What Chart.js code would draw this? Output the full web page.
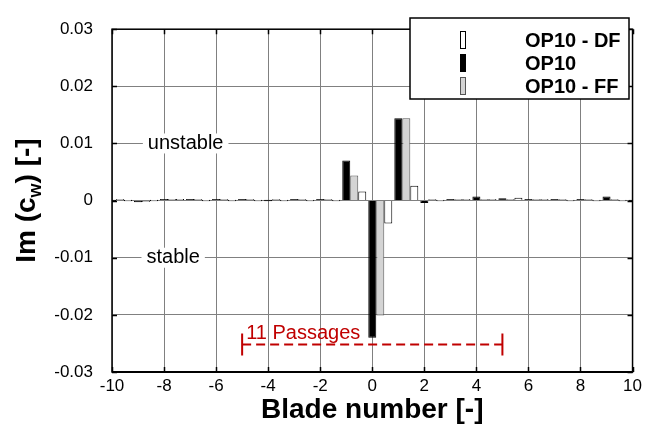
<!DOCTYPE html>
<html>
<head>
<meta charset="utf-8">
<script src="https://cdn.jsdelivr.net/npm/chart.js@4.4.0/dist/chart.umd.min.js"></script>
<style>
  html, body { margin: 0; padding: 0; background: #fff; }
  #wrap { width: 646px; height: 432px; position: relative; }
</style>
</head>
<body>
<div id="wrap"><canvas id="chartIm"></canvas></div>
<script>
'use strict';

/* ── Données ── */
var BLADES   = [-10, -9, -8, -7, -6, -5, -4, -3, -2, -1, 0, 1, 2, 3, 4, 5, 6, 7, 8, 9, 10];
var OP10     = [0, -0.0003, 0.0001, 0.0002, 0.0001, 0.0001, 0, 0.0001, 0.0001, 0.0070, -0.0240, 0.0144, -0.0004, 0.0001, 0.0007, 0.0004, 0.0001, 0.0001, 0.0001, 0.0007, 0];
var OP10_FF  = [0.0001, -0.0001, 0.0002, 0.0003, 0.0001, 0.0001, 0.0001, 0.0001, 0.0001, 0.0044, -0.0201, 0.0144, 0.0001, 0.0002, 0.0002, 0.0003, 0.0002, 0.0002, 0.0001, 0.0002, 0];
var OP10_DF  = [0, 0, 0.0001, 0, 0, 0, 0, 0, 0, 0.0016, -0.0040, 0.0026, 0, 0.0001, 0.0001, 0.0005, 0.0001, 0, 0, 0, 0];
var X_TICKS  = [-10, -8, -6, -4, -2, 0, 2, 4, 6, 8, 10];
var Y_TICKS  = [-0.03, -0.02, -0.01, 0, 0.01, 0.02, 0.03];
var LEGEND_ORDER = ['OP10 - DF', 'OP10', 'OP10 - FF'];

/* annotations (coordonnées données) */
var PASSAGES_FROM = -5, PASSAGES_TO = 5, PASSAGES_LEVEL = -0.0252;
var LBL_UNSTABLE = { text: 'unstable', x: -7.17, y: 0.01 };
var LBL_STABLE   = { text: 'stable',   x: -7.65, y: -0.01 };

var FONT = '"Liberation Sans", Arial, sans-serif';
var RED = '#c00000';

function pts(arr) {
    return BLADES.map(function (b, i) { return { x: b, y: arr[i] }; });
}
function empty() {
    return BLADES.map(function (b) { return { x: b, y: null }; });
}

/* deux emplacements vides à gauche : la barre OP10 tombe au centre du groupe */
var datasets = [
    { label: '',          data: empty(),      backgroundColor: 'transparent', borderWidth: 0 },
    { label: '',          data: empty(),      backgroundColor: 'transparent', borderWidth: 0 },
    { label: 'OP10',      data: pts(OP10),    backgroundColor: '#000000', borderColor: '#000000', borderWidth: 1 },
    { label: 'OP10 - FF', data: pts(OP10_FF), backgroundColor: '#d4d4d4', borderColor: '#555555', borderWidth: 1 },
    { label: 'OP10 - DF', data: pts(OP10_DF), backgroundColor: '#ffffff', borderColor: '#000000', borderWidth: 1 }
];

/* ── Plugin : cadre, titres, légende, annotations ── */
var decor = {
    id: 'decor',
    afterDraw: function (chart) {
        var c = chart.ctx, a = chart.chartArea;
        var sx = chart.scales.x, sy = chart.scales.y;
        c.save();

        /* étiquettes stable / unstable sur fond blanc */
        c.font = '20px ' + FONT;
        c.textAlign = 'center';
        c.textBaseline = 'middle';
        [LBL_UNSTABLE, LBL_STABLE].forEach(function (l) {
            var px = sx.getPixelForValue(l.x), py = sy.getPixelForValue(l.y);
            var w = c.measureText(l.text).width;
            c.fillStyle = '#fff';
            c.fillRect(px - w / 2 - 5, py - 10, w + 10, 20);
            c.fillStyle = '#000';
            c.fillText(l.text, px, py);
        });

        /* 11 Passages */
        var x1 = sx.getPixelForValue(PASSAGES_FROM), x2 = sx.getPixelForValue(PASSAGES_TO);
        var yl = sy.getPixelForValue(PASSAGES_LEVEL);
        c.strokeStyle = RED;
        c.lineWidth = 2;
        c.setLineDash([9, 5]);
        c.beginPath(); c.moveTo(x1, yl); c.lineTo(x2, yl); c.stroke();
        c.setLineDash([]);
        c.beginPath();
        c.moveTo(x1, yl - 11); c.lineTo(x1, yl + 11);
        c.moveTo(x2, yl - 11); c.lineTo(x2, yl + 11);
        c.stroke();
        c.fillStyle = RED;
        c.font = '20px ' + FONT;
        c.textAlign = 'left';
        c.textBaseline = 'alphabetic';
        c.fillText('11 Passages', x1 + 4, yl - 6);

        /* cadre et petites graduations */
        c.strokeStyle = '#000';
        c.lineWidth = 1.5;
        c.strokeRect(a.left, a.top, a.right - a.left, a.bottom - a.top);
        c.lineWidth = 2;
        c.beginPath(); c.moveTo(a.left, a.bottom); c.lineTo(a.right, a.bottom); c.stroke();
        c.lineWidth = 1.5;
        c.beginPath();
        X_TICKS.forEach(function (t) {
            var px = Math.round(sx.getPixelForValue(t)) + 0.5;
            c.moveTo(px, a.bottom); c.lineTo(px, a.bottom - 5);
            c.moveTo(px, a.top); c.lineTo(px, a.top + 5);
        });
        Y_TICKS.forEach(function (t) {
            var py = Math.round(sy.getPixelForValue(t)) + 0.5;
            c.moveTo(a.left, py); c.lineTo(a.left + 5, py);
            c.moveTo(a.right, py); c.lineTo(a.right - 5, py);
        });
        c.stroke();

        /* légende */
        var lx = 410, ly = 18, lw = 219, lh = 81;
        c.fillStyle = '#fff';
        c.fillRect(lx, ly, lw, lh);
        c.lineWidth = 1.5;
        c.strokeStyle = '#000';
        c.strokeRect(lx, ly, lw, lh);
        c.font = 'bold 20px ' + FONT;
        c.textBaseline = 'middle';
        c.textAlign = 'left';
        LEGEND_ORDER.forEach(function (name, i) {
            var ds = datasets.filter(function (d) { return d.label === name; })[0];
            var ry = 40 + i * 23;
            c.fillStyle = ds.backgroundColor;
            c.fillRect(461, ry - 8, 4, 16);
            c.strokeStyle = ds.borderColor;
            c.lineWidth = 1;
            c.strokeRect(460.5, ry - 8.5, 5, 17);
            c.fillStyle = '#000';
            c.fillText(name, 525, ry + 1);
        });

        /* titre axe x */
        c.font = 'bold 28px ' + FONT;
        c.textAlign = 'center';
        c.textBaseline = 'middle';
        c.fillText('Blade number [-]', (a.left + a.right) / 2, 410);

        /* titre axe y, avec indice */
        c.translate(27, (a.top + a.bottom) / 2);
        c.rotate(-Math.PI / 2);
        var fMain = 'bold 28px ' + FONT, fSub = 'bold 18px ' + FONT;
        c.font = fMain; var w1 = c.measureText('Im (c').width, w3 = c.measureText(') [-]').width;
        c.font = fSub;  var w2 = c.measureText('w').width;
        var x0 = -(w1 + w2 + w3) / 2;
        c.textAlign = 'left';
        c.font = fMain; c.fillText('Im (c', x0, 0);
        c.font = fSub;  c.fillText('w', x0 + w1, 9);
        c.font = fMain; c.fillText(') [-]', x0 + w1 + w2, 0);

        c.restore();
    }
};

new Chart(document.getElementById('chartIm'), {
    type: 'bar',
    data: { datasets: datasets },
    options: {
        responsive: true,
        maintainAspectRatio: false,
        animation: false,
        events: [],
        layout: { padding: { top: 14, right: 13, left: 0, bottom: 0 } },
        datasets: { bar: { categoryPercentage: 1.536, barPercentage: 1.0, minBarLength: 1.5 } },
        scales: {
            x: {
                type: 'linear',
                offset: false,
                min: -10,
                max: 10,
                afterFit: function (s) { s.height = 60; },
                grid: { color: '#808080', lineWidth: 1, drawTicks: false, offset: false },
                border: { display: false },
                ticks: { stepSize: 2, autoSkip: false, color: '#000', font: { family: FONT, size: 17 }, padding: 4, maxRotation: 0 }
            },
            y: {
                min: -0.03,
                max: 0.03,
                afterFit: function (s) { s.width = 112; },
                grid: { color: '#808080', lineWidth: 1, drawTicks: false },
                border: { display: false },
                ticks: {
                    stepSize: 0.01,
                    color: '#000',
                    font: { family: FONT, size: 17 },
                    padding: 19,
                    callback: function (v) { return Math.abs(v) < 1e-9 ? '0' : String(+v.toFixed(2)); }
                }
            }
        },
        plugins: { legend: { display: false }, tooltip: { enabled: false } }
    },
    plugins: [decor]
});
</script>
</body>
</html>
